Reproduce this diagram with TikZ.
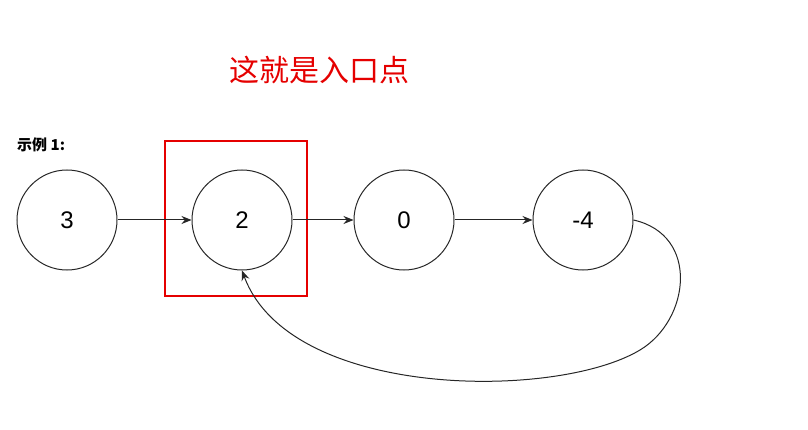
\documentclass[tikz,border=0pt]{standalone}
\usepackage{fontspec}
\setmainfont{Liberation Sans}
\newfontfamily\cjk{Noto Sans CJK SC}
\usetikzlibrary{arrows.meta}
\begin{document}
\begin{tikzpicture}[x=1pt,y=-1pt,
  listnode/.style={circle,draw=black!85,line width=1pt,minimum size=100pt,inner sep=0pt,font=\fontsize{24}{28}\selectfont},
  link/.style={draw=black!85,line width=1pt,-{Stealth[length=10pt,width=8pt]}}]
\useasboundingbox (0,0) rectangle (808,430);
\node[text=red!90!black,font=\cjk\fontsize{30}{34}\selectfont] (title) at (319,70) {这就是入口点};
\node[anchor=west,font=\cjk\bfseries\fontsize{15}{18}\selectfont,inner sep=0pt] (label) at (17,145) {示例 1:};
\node[listnode] (n3) at (67,220) {3};
\node[listnode] (n2) at (242,220) {2};
\node[listnode] (n0) at (404,220) {0};
\node[listnode] (n4) at (583,220) {-4};
\node[draw=red!90!black,line width=2.2pt,minimum width=142pt,minimum height=155pt,inner sep=0pt] (box) at (236,218.5) {};
\draw[link] (n3) -- (n2);
\draw[link] (n2) -- (n0);
\draw[link] (n0) -- (n4);
\coordinate (mid) at (640,350);
\draw[link] (n4.east) .. controls (700,235) and (690,320) .. (mid) .. controls (557,400) and (290,400) .. (n2.south);
\end{tikzpicture}
\end{document}
